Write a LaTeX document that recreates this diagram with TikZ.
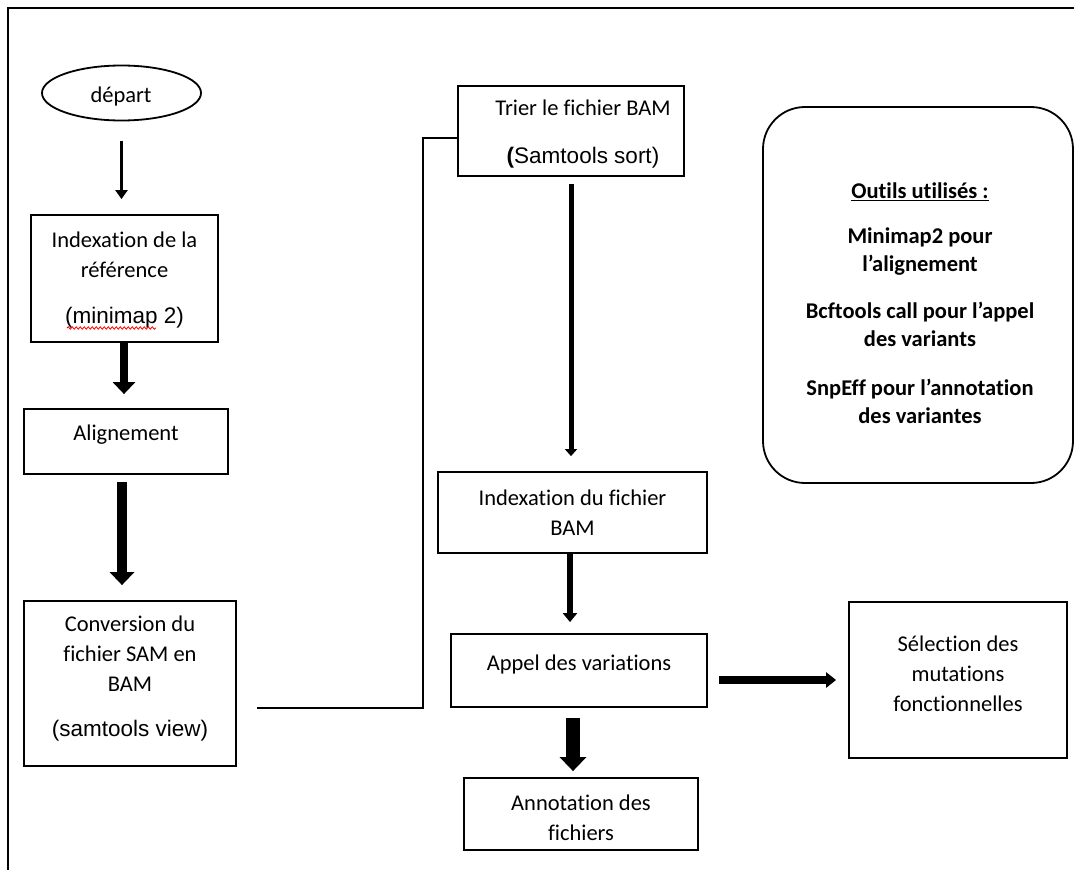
\documentclass[tikz,border=0pt]{standalone}
\usepackage{fontspec}
\setmainfont{Carlito}[Ligatures=NoCommon]
\newfontfamily\arialf{Liberation Sans}
\usetikzlibrary{arrows.meta,shapes.geometric,decorations.pathmorphing}
\tikzset{
  box/.style={draw, line width=1.8pt, inner sep=0pt},
  txt/.style={align=center, inner sep=0pt, font=\fontsize{22.5}{30}\selectfont},
  btxt/.style={align=center, inner sep=0pt, font=\fontsize{22.5}{28}\selectfont\bfseries},
  conn/.style={line width=2pt},
}
\begin{document}
\begin{tikzpicture}[x=1pt,y=-1pt]
\useasboundingbox (0,0) rectangle (1074,870);
% frame
\draw[line width=2.5pt] (1074,8) -- (8,8) -- (8,870);

% left column
\node[draw, ellipse, line width=1.8pt, minimum width=159pt, minimum height=55pt, inner sep=0pt] (dep) at (121.5,93) {};
\node[txt] (dept) at (121,97) {départ};

\node[box, minimum width=187pt, minimum height=127pt] (b1) at (124.5,278.5) {};
\node[txt] (b1t) at (124.5,280) {Indexation de la\\référence\\[16pt]{\arialf (minimap 2)}};
\draw[red, line width=0.8pt, decorate, decoration={snake, amplitude=1.2pt, segment length=4pt}] (67,328) -- (156,328);

\node[box, minimum width=204pt, minimum height=65pt] (b2) at (126,441.5) {};
\node[txt] (b2t) at (126,435) {Alignement};

\node[box, minimum width=212pt, minimum height=165pt] (b3) at (130,683.5) {};
\node[txt] (b3t) at (130,679) {Conversion du\\fichier SAM en\\BAM\\[15pt]{\arialf (samtools view)}};

% middle column
\node[box, minimum width=226pt, minimum height=90pt] (b4) at (571,131) {};
\node[txt] (b4t) at (583,134) {Trier le fichier BAM\\[18pt]{\arialf\textbf{(}Samtools sort)}};

\node[box, minimum width=269pt, minimum height=81pt] (b5) at (572.5,512.5) {};
\node[txt] (b5t) at (572.5,513) {Indexation du fichier\\BAM};

\node[box, minimum width=256pt, minimum height=73pt] (b6) at (579,670.5) {};
\node[txt] (b6t) at (579,664) {Appel des variations};

\node[box, minimum width=234pt, minimum height=72pt] (b7) at (581,814) {};
\node[txt] (b7t) at (581,818) {Annotation des\\fichiers};

% right
\node[box, minimum width=218pt, minimum height=156pt] (b8) at (958,680) {};
\node[txt] (b8t) at (958,674) {Sélection des\\mutations\\fonctionnelles};

\node[box, rounded corners=42pt, minimum width=310pt, minimum height=376pt] (tools) at (918,295) {};
\node[btxt] (toolst) at (920,303) {\underline{Outils utilisés :}\\[17pt]Minimap2 pour\\l’alignement\\[19pt]Bcftools call pour l’appel\\des variants\\[21pt]SnpEff pour l’annotation\\des variantes};

% arrows
\draw[line width=3pt, -{Triangle[width=12pt,length=9pt]}, shorten <=20pt, shorten >=15pt] (dep.south) -- (dep.south |- b1.north);
\draw[line width=8pt, -{Triangle[width=22pt,length=12pt]}, shorten >=14pt] ([xshift=-0.5pt]b1.south) -- ([xshift=-0.5pt]b1.south |- b2.north);
\draw[line width=10pt, -{Triangle[width=24pt,length=13pt]}, shorten <=7pt, shorten >=15pt] ([xshift=-4pt]b2.south) -- ([xshift=-4pt]b2.south |- b3.north);

\coordinate (c1) at (257,708);
\coordinate (c2) at (423,708);
\coordinate (c3) at (423,138);
\draw[conn] (c1) -- (c2) -- (c3) -- (c3 -| b4.west);

\draw[line width=5pt, -{Triangle[width=12pt,length=7pt]}, shorten <=7pt, shorten >=15pt] (b4.south) -- (b4.south |- b5.north);
\draw[line width=6pt, -{Triangle[width=14pt,length=9pt]}, shorten >=11pt] ([xshift=-2.5pt]b5.south) -- ([xshift=-2.5pt]b5.south |- b6.north);
\draw[line width=14pt, -{Triangle[width=26pt,length=14pt]}, shorten <=10pt, shorten >=6pt] ([xshift=-6pt]b6.south) -- ([xshift=-6pt]b6.south |- b7.north);
\draw[line width=8pt, -{Triangle[width=15pt,length=10pt]}, shorten <=11pt, shorten >=12pt] ([yshift=-9.5pt]b6.east) -- ([yshift=-9.5pt]b6.east -| b8.west);
\end{tikzpicture}
\end{document}
